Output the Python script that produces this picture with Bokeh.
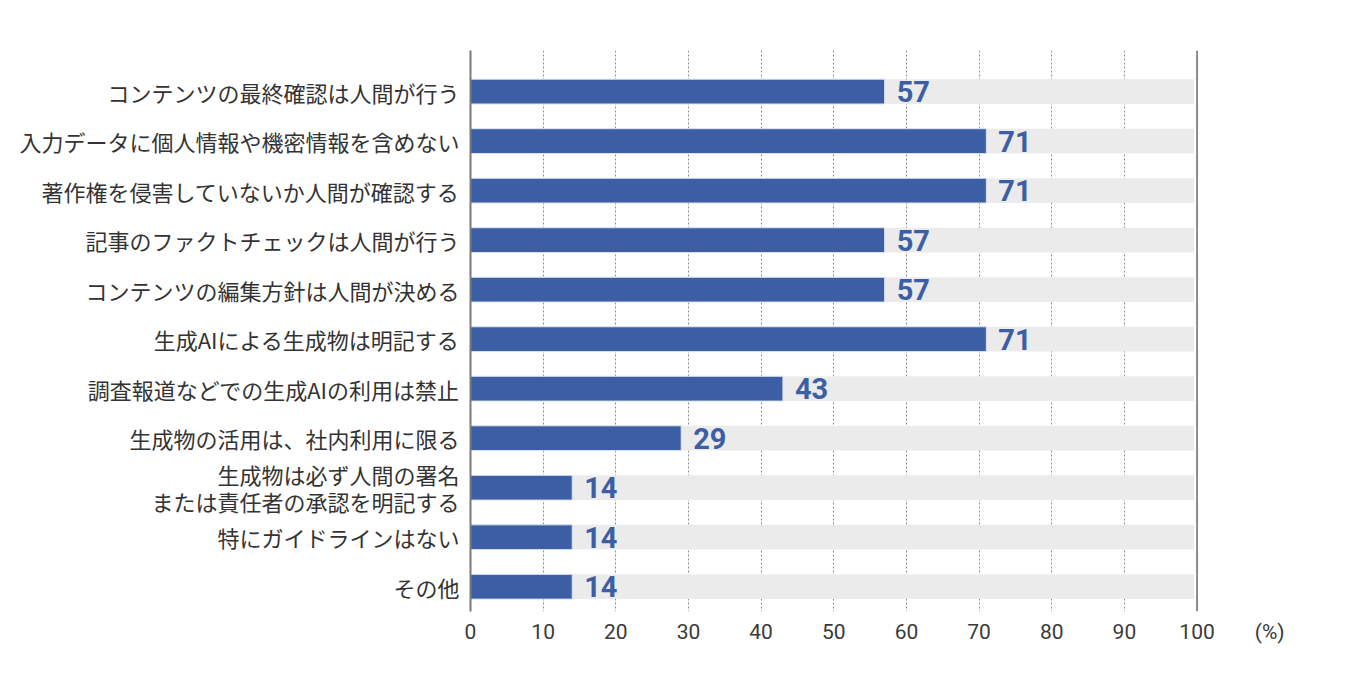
from bokeh.core.properties import value
from bokeh.embed import file_html
from bokeh.models import ColumnDataSource, FixedTicker, Range1d, Span
from bokeh.plotting import figure
from bokeh.resources import INLINE

categories = [
    "コンテンツの最終確認は人間が行う",
    "入力データに個人情報や機密情報を含めない",
    "著作権を侵害していないか人間が確認する",
    "記事のファクトチェックは人間が行う",
    "コンテンツの編集方針は人間が決める",
    "生成AIによる生成物は明記する",
    "調査報道などでの生成AIの利用は禁止",
    "生成物の活用は、社内利用に限る",
    "生成物は必ず人間の署名\nまたは責任者の承認を明記する",
    "特にガイドラインはない",
    "その他",
]
shares = [57, 71, 71, 57, 57, 71, 43, 29, 14, 14, 14]
x_ticks = [0, 10, 20, 30, 40, 50, 60, 70, 80, 90, 100]
unit_label = "(%)"

BLUE = "#3c5ea5"

rows = list(range(len(categories)))
source = ColumnDataSource(dict(
    y=rows,
    share=shares,
    full=[99.6] * len(rows),
    label=[str(v) for v in shares],
))

# x range runs past 100 so the "(%)" unit can sit as an extra tick label
p = figure(
    width=1330, height=669,
    x_range=Range1d(0, 113), y_range=Range1d(10.5, -0.83),
    output_backend="svg", toolbar_location=None,
    min_border_left=470, min_border_right=39,
    min_border_top=50, min_border_bottom=58,
)
p.outline_line_color = None
p.background_fill_color = "white"

# grey track behind each bar, then the bar itself
p.hbar(y="y", left=0, right="full", height=0.5, source=source,
       fill_color="#ebebeb", line_color=None)
p.hbar(y="y", left=0, right="share", height=0.5, source=source,
       fill_color=BLUE, line_color="#dbe3f1", line_width=1)

p.text(x="share", y="y", text="label", source=source,
       x_offset=12, text_align="left", text_baseline="middle",
       text_font=value("Roboto"), text_font_style="bold",
       text_font_size="29px", text_color=BLUE)

# vertical dotted grid
p.ygrid.grid_line_color = None
p.xgrid.ticker = FixedTicker(ticks=x_ticks[1:-1])
p.xgrid.grid_line_color = "#8c8c8c"
p.xgrid.grid_line_dash = "2 2"
p.xgrid.grid_line_width = 1
p.add_layout(Span(location=100, dimension="height",
                  line_color="#8c8c8c", line_width=2))

p.xaxis.ticker = FixedTicker(ticks=x_ticks + [110])
p.xaxis.major_label_overrides = {110: unit_label}
p.xaxis.axis_line_color = None
p.xaxis.major_tick_line_color = None
p.xaxis.minor_tick_line_color = None
p.xaxis.major_label_standoff = 2
p.xaxis.major_label_text_font = "Roboto"
p.xaxis.major_label_text_font_size = "21px"
p.xaxis.major_label_text_color = "#3a3a3a"

p.yaxis.ticker = FixedTicker(ticks=rows)
p.yaxis.major_label_overrides = {i: c for i, c in enumerate(categories)}
p.yaxis.axis_line_color = "#7a7a7a"
p.yaxis.axis_line_width = 2
p.yaxis.major_tick_line_color = None
p.yaxis.minor_tick_line_color = None
p.yaxis.major_label_standoff = 5
p.yaxis.major_label_text_font = "Noto Sans CJK JP"
p.yaxis.major_label_text_font_size = "22px"
p.yaxis.major_label_text_color = "#333333"
p.yaxis.major_label_text_line_height = 0.85

open("out.html", "w").write(file_html(p, INLINE))
